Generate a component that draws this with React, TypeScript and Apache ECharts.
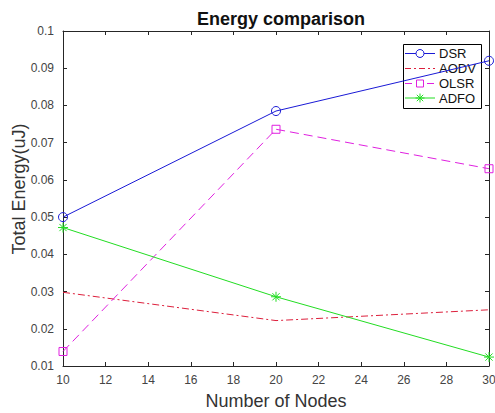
import React, { useEffect, useRef } from "react";
import * as echarts from "echarts";

const nodes = [10, 20, 30];
const dsr = [0.05, 0.0785, 0.092];
const aodv = [0.0298, 0.0222, 0.0251];
const olsr = [0.0139, 0.0736, 0.063];
const adfo = [0.0472, 0.0286, 0.0124];
const names = ["DSR", "AODV", "OLSR", "ADFO"];

const pair = (ys: number[]) => nodes.map((x, i) => [x, ys[i]]);

const asterisk =
  "path://M0,-5L0,5M-5,0L5,0M-3.6,-3.6L3.6,3.6M-3.6,3.6L3.6,-3.6";

const C_DSR = "#1a1ad6";
const C_AODV = "#dd1f3c";
const C_OLSR = "#e020e0";
const C_ADFO = "#22dd22";

export default function App() {
  const ref = useRef<HTMLDivElement>(null);
  useEffect(() => {
    if (!ref.current) return;
    const chart = echarts.init(ref.current, undefined, { renderer: "svg" });
    const font = "'Liberation Sans', Arial, sans-serif";
    const tickCommon = {
      axisLine: { show: true, lineStyle: { color: "#262626", width: 1 } },
      axisTick: { show: true, inside: true, length: 4, lineStyle: { color: "#262626" } },
      splitLine: { show: false },
    };

    // legend built with graphic elements
    const lx0 = 405, lx1 = 435, lxm = 420, ltx = 439;
    const rows = [53.5, 68.5, 83.5, 98];
    const legendChildren: any[] = [
      {
        type: "rect",
        shape: { x: 403.5, y: 44.5, width: 78, height: 64 },
        style: { fill: "#fff", stroke: "#000", lineWidth: 1 },
      },
    ];
    const dashes: any[] = [null, [6, 3, 2, 3], [7, 4], null];
    const colors = [C_DSR, C_AODV, C_OLSR, C_ADFO];
    rows.forEach((y, i) => {
      legendChildren.push({
        type: "line",
        shape: { x1: lx0, y1: y, x2: lx1, y2: y },
        style: { stroke: colors[i], lineWidth: 1, lineDash: dashes[i] || undefined },
      });
      legendChildren.push({
        type: "text",
        x: ltx,
        y: y,
        style: {
          text: names[i],
          fill: "#111",
          font: `13px ${font}`,
          verticalAlign: "middle",
          align: "left",
        },
      });
    });
    legendChildren.push({
      type: "circle",
      shape: { cx: lxm, cy: rows[0], r: 4 },
      style: { fill: "#fff", stroke: C_DSR, lineWidth: 1 },
    });
    legendChildren.push({
      type: "rect",
      shape: { x: lxm - 3.5, y: rows[2] - 3.5, width: 7, height: 7 },
      style: { fill: "#fff", stroke: C_OLSR, lineWidth: 1 },
    });
    const s = 4.5, d = 3.2;
    [
      [0, -s, 0, s],
      [-s, 0, s, 0],
      [-d, -d, d, d],
      [-d, d, d, -d],
    ].forEach(([a, b, c, e]) =>
      legendChildren.push({
        type: "line",
        shape: { x1: lxm + a, y1: rows[3] + b, x2: lxm + c, y2: rows[3] + e },
        style: { stroke: C_ADFO, lineWidth: 1 },
      })
    );

    chart.setOption({
      animation: false,
      backgroundColor: "#ffffff",
      textStyle: { fontFamily: font },
      title: {
        text: "Energy comparison",
        left: 276,
        top: 5,
        textAlign: "center",
        textStyle: { fontSize: 18, fontWeight: "bold", color: "#111", fontFamily: font },
      },
      grid: {
        left: 63,
        right: 6,
        top: 31,
        bottom: 47,
        containLabel: false,
        outerBoundsMode: "none",
      },
      xAxis: [
        {
          type: "value",
          min: 10,
          max: 30,
          interval: 2,
          name: "Number of Nodes",
          nameLocation: "middle",
          nameGap: 26,
          nameTextStyle: { fontSize: 18, color: "#333", fontFamily: font },
          axisLabel: { fontSize: 12, color: "#444", margin: 8, fontFamily: font },
          ...tickCommon,
        },
        {
          type: "value",
          position: "top",
          min: 10,
          max: 30,
          interval: 2,
          axisLabel: { show: false },
          ...tickCommon,
        },
      ],
      yAxis: [
        {
          type: "value",
          min: 0.01,
          max: 0.1,
          interval: 0.01,
          axisLabel: {
            fontSize: 12,
            color: "#444",
            margin: 9,
            fontFamily: font,
            formatter: (v: number) => String(+v.toFixed(2)),
          },
          ...tickCommon,
        },
        {
          type: "value",
          position: "right",
          min: 0.01,
          max: 0.1,
          interval: 0.01,
          axisLabel: { show: false },
          ...tickCommon,
        },
      ],
      series: [
        {
          name: "DSR",
          type: "line",
          data: pair(dsr),
          symbol: "circle",
          symbolSize: 9,
          showAllSymbol: true,
          lineStyle: { color: C_DSR, width: 1 },
          itemStyle: { color: "rgba(255,255,255,0)", borderColor: C_DSR, borderWidth: 1 },
          z: 4,
        },
        {
          name: "AODV",
          type: "line",
          data: pair(aodv),
          symbol: "none",
          lineStyle: { color: C_AODV, width: 1, type: [7, 3, 2, 3] },
          itemStyle: { color: C_AODV },
        },
        {
          name: "OLSR",
          type: "line",
          data: pair(olsr),
          symbol: "rect",
          symbolSize: 8,
          lineStyle: { color: C_OLSR, width: 1, type: [9, 5] },
          itemStyle: { color: "rgba(255,255,255,0)", borderColor: C_OLSR, borderWidth: 1 },
        },
        {
          name: "ADFO",
          type: "line",
          data: pair(adfo),
          symbol: asterisk,
          symbolSize: 10,
          lineStyle: { color: C_ADFO, width: 1 },
          itemStyle: { color: "rgba(255,255,255,0)", borderColor: C_ADFO, borderWidth: 1 },
        },
      ],
      graphic: [
        { type: "group", z: 100, children: legendChildren },
        {
          type: "text",
          x: 19,
          y: 189,
          rotation: Math.PI / 2,
          style: {
            text: "Total Energy(uJ)",
            fill: "#333",
            font: `18px ${font}`,
            align: "center",
            verticalAlign: "middle",
          },
        },
      ],
    });
    return () => chart.dispose();
  }, []);
  return (
    <div
      ref={ref}
      style={{ position: "absolute", left: 0, top: 0, width: 495, height: 413 }}
    />
  );
}
